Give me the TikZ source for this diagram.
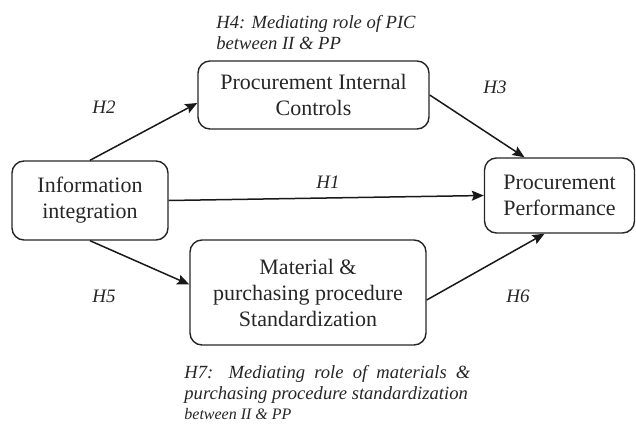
\documentclass[tikz,border=0pt]{standalone}
\usepackage{fontspec}
\setmainfont{Liberation Serif}
\usetikzlibrary{arrows.meta}
\setlength{\parindent}{0pt}
\begin{document}
\begin{tikzpicture}[
  x=0.5pt, y=-0.5pt,
  >={Stealth[length=6pt,width=5pt,inset=1pt]},
  constructbox/.style={rectangle, rounded corners=6pt, draw=black!85, line width=0.7pt,
                       align=center, font=\fontsize{11}{13}\selectfont, text=black!85, inner sep=0pt},
  hyplabel/.style={font=\fontsize{9.5}{11}\selectfont\itshape, text=black!85},
  notelabel/.style={font=\fontsize{9.3}{10.5}\selectfont\itshape, text=black!85, inner sep=0pt},
  flow/.style={->, line width=0.75pt, draw=black!90}
]
\useasboundingbox (0,0) rectangle (636,423);

\node[constructbox, minimum width=78pt,  minimum height=39.5pt] (info) at (90,200.5)  {Information\\integration};
\node[constructbox, minimum width=115.5pt, minimum height=34pt] (pic)  at (313.5,95)  {Procurement Internal\\Controls};
\node[constructbox, minimum width=75pt,  minimum height=37.5pt] (pp)   at (559.5,195.5) {Procurement\\Performance};
\node[constructbox, minimum width=118pt, minimum height=52.5pt] (mps)  at (308,292.5) {Material \&\\purchasing procedure\\Standardization};

\draw[flow] (info.north) -- ([yshift=-4pt]pic.west);
\draw[flow] (info.south) -- ([yshift=4pt]mps.west);
\draw[flow] (info.east) -- (pp.west);
\draw[flow] (pic.east) -- ([xshift=-17.5pt]pp.north);
\draw[flow] ([yshift=-3.75pt]mps.east) -- ([xshift=-7.5pt]pp.south);

\node[hyplabel] (h1) at (328,182) {H1};
\node[hyplabel] (h2) at (104,107) {H2};
\node[hyplabel] (h3) at (495,87)  {H3};
\node[hyplabel] (h5) at (104,296) {H5};
\node[hyplabel] (h6) at (518,296) {H6};

\node[notelabel, align=left, anchor=west] (h4) at (216,33) {H4: Mediating role of PIC\\between II \& PP};
\node[notelabel, anchor=north west, text width=143pt, align=justify] (h7) at (184,365)
  {H7: Mediating role of materials \& purchasing procedure standardization\par
   {\fontsize{8}{10}\selectfont between II \& PP\par}};
\end{tikzpicture}
\end{document}
